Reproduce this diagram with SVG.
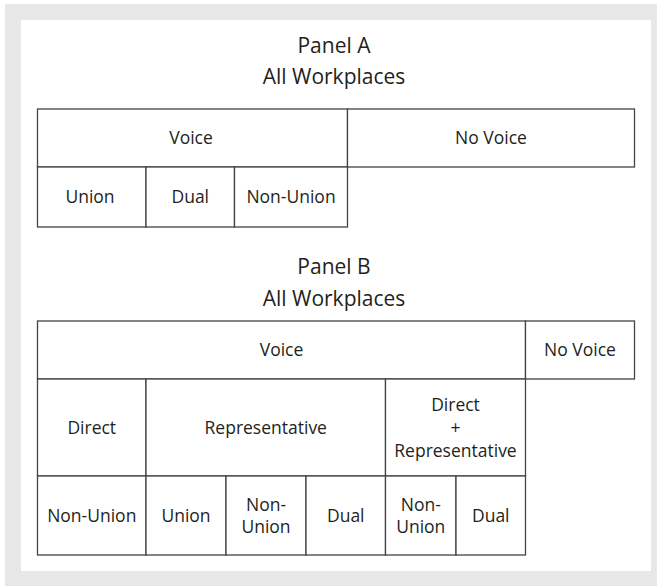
<svg xmlns="http://www.w3.org/2000/svg" width="657" height="586" viewBox="0 0 657 586">
<style>
.cell{fill:#ffffff;stroke:#444444;stroke-width:1.3}
.t{font-family:"Open Sans","Noto Sans",sans-serif;font-size:17.5px;font-weight:500;fill:#231f20;text-anchor:middle}
.h{font-family:"Open Sans","Noto Sans",sans-serif;font-size:21px;font-weight:500;fill:#231f20;text-anchor:middle}
</style>
<rect x="0" y="0" width="657" height="586" fill="#ffffff"/>
<rect x="5" y="4" width="652" height="582" fill="#e6e7e8"/>
<rect x="21" y="20" width="630" height="551" fill="#ffffff"/>

<g id="titleA">
<text class="h" x="334" y="53">Panel A</text>
<text class="h" x="334" y="84">All Workplaces</text>
</g>
<g id="A-voice"><rect class="cell" x="37.5" y="109" width="310" height="58"/><text class="t" x="191" y="144">Voice</text></g>
<g id="A-novoice"><rect class="cell" x="347.5" y="109" width="287" height="58"/><text class="t" x="491" y="144">No Voice</text></g>
<g id="A-union"><rect class="cell" x="37.5" y="167" width="108.5" height="60"/><text class="t" x="90" y="203">Union</text></g>
<g id="A-dual"><rect class="cell" x="146" y="167" width="88.5" height="60"/><text class="t" x="190.25" y="203">Dual</text></g>
<g id="A-nonunion"><rect class="cell" x="234.5" y="167" width="113" height="60"/><text class="t" x="291" y="203">Non-Union</text></g>

<g id="titleB">
<text class="h" x="334" y="274">Panel B</text>
<text class="h" x="334" y="306">All Workplaces</text>
</g>
<g id="B-voice"><rect class="cell" x="37.5" y="321" width="488" height="58"/><text class="t" x="281.5" y="356">Voice</text></g>
<g id="B-novoice"><rect class="cell" x="525.5" y="321" width="109" height="58"/><text class="t" x="580" y="356">No Voice</text></g>
<g id="B-direct"><rect class="cell" x="37.5" y="379" width="108.5" height="97"/><text class="t" x="91.75" y="433.5">Direct</text></g>
<g id="B-rep"><rect class="cell" x="146" y="379" width="239.5" height="97"/><text class="t" x="265.75" y="433.5">Representative</text></g>
<g id="B-directrep"><rect class="cell" x="385.5" y="379" width="140" height="97"/><text class="t" x="455.5" y="410.5">Direct</text><text class="t" x="455.5" y="433.5">+</text><text class="t" x="455.5" y="456.5">Representative</text></g>
<g id="B-d-nonunion"><rect class="cell" x="37.5" y="476" width="108.5" height="79"/><text class="t" x="91.75" y="521.5">Non-Union</text></g>
<g id="B-r-union"><rect class="cell" x="146" y="476" width="80" height="79"/><text class="t" x="186" y="521.5">Union</text></g>
<g id="B-r-nonunion"><rect class="cell" x="226" y="476" width="80" height="79"/><text class="t" x="266" y="511">Non-</text><text class="t" x="266" y="533">Union</text></g>
<g id="B-r-dual"><rect class="cell" x="306" y="476" width="79.5" height="79"/><text class="t" x="345.75" y="521.5">Dual</text></g>
<g id="B-dr-nonunion"><rect class="cell" x="385.5" y="476" width="70.5" height="79"/><text class="t" x="420.75" y="511">Non-</text><text class="t" x="420.75" y="533">Union</text></g>
<g id="B-dr-dual"><rect class="cell" x="456" y="476" width="69.5" height="79"/><text class="t" x="490.75" y="521.5">Dual</text></g>
<g id="connectors"></g>
</svg>
